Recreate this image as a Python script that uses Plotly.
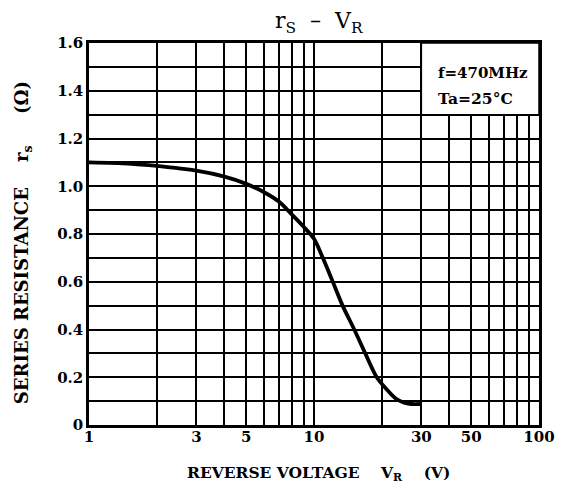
import plotly.graph_objects as go

# Curve data
vr = [1, 1.5, 2, 3, 4, 5, 6, 7, 8, 9, 10, 11, 12, 13.4, 15.1, 16.9, 19, 21, 23, 25, 27, 30]
rs = [1.10, 1.095, 1.085, 1.065, 1.04, 1.01, 0.975, 0.935, 0.88, 0.83, 0.78, 0.695, 0.61,
      0.50, 0.40, 0.30, 0.20, 0.15, 0.112, 0.094, 0.088, 0.088]

x_ticks = [1, 3, 5, 10, 30, 50, 100]
x_labels = ["1", "3", "5", "10", "30", "50", "100"]
x_minor = [2, 4, 6, 7, 8, 9, 20, 40, 60, 70, 80, 90]
y_ticks = [0, 0.2, 0.4, 0.6, 0.8, 1.0, 1.2, 1.4, 1.6]
y_labels = ["0", "0.2", "0.4", "0.6", "0.8", "1.0", "1.2", "1.4", "1.6"]
y_minor = [0.1, 0.3, 0.5, 0.7, 0.9, 1.1, 1.3, 1.5]

FONT = "DejaVu Serif"
BOLD15 = dict(family=FONT, size=15, color="black", weight="bold")

fig = go.Figure()
fig.add_trace(go.Scatter(
    x=vr, y=rs, mode="lines",
    line=dict(color="black", width=3.8, shape="spline", smoothing=0.8),
    hoverinfo="skip", showlegend=False))

fig.update_xaxes(
    type="log", range=[0, 2],
    tickvals=x_ticks, ticktext=x_labels,
    showgrid=True, gridcolor="black", gridwidth=1.5,
    minor=dict(tickvals=x_minor, showgrid=True, gridcolor="black", gridwidth=1.5, ticks=""),
    showline=True, linecolor="black", linewidth=2.5, mirror=True,
    ticks="", zeroline=False, ticklabelstandoff=-4, ticklabeloverflow="allow",
    tickfont=BOLD15)
fig.update_yaxes(
    range=[0, 1.6],
    tickvals=y_ticks, ticktext=y_labels,
    showgrid=True, gridcolor="black", gridwidth=1.5,
    minor=dict(tickvals=y_minor, showgrid=True, gridcolor="black", gridwidth=1.5, ticks=""),
    showline=True, linecolor="black", linewidth=2.5, mirror=True,
    ticks="", zeroline=False, ticklabelstandoff=0,
    tickfont=BOLD15)

# condition box in upper right corner
fig.add_shape(type="rect", xref="x", yref="y",
              x0=30, x1=100, y0=1.3, y1=1.6,
              fillcolor="white", line=dict(color="black", width=1.5), layer="above")

fig.add_annotation(xref="paper", yref="paper", x=0.77, y=0.921,
                   xanchor="left", yanchor="middle",
                   text="f=470MHz", showarrow=False, font=BOLD15)
fig.add_annotation(xref="paper", yref="paper", x=0.77, y=0.856,
                   xanchor="left", yanchor="middle",
                   text="Ta=25°C", showarrow=False,
                   font=dict(family=FONT, size=15.5, color="black", weight="bold"))

# axis titles
fig.add_annotation(xref="paper", yref="paper", x=0.511, y=-0.128, yanchor="middle",
                   text="REVERSE VOLTAGE&nbsp;&nbsp;&nbsp;&nbsp;V<sub>R</sub>&nbsp;&nbsp;&nbsp;&nbsp;(V)",
                   showarrow=False,
                   font=dict(family=FONT, size=15.5, color="black", weight="bold"))
fig.add_annotation(xref="paper", yref="paper", x=-0.145, y=0.478, xanchor="center",
                   yanchor="middle", textangle=-90,
                   text="SERIES RESISTANCE&nbsp;&nbsp;&nbsp;&nbsp;r<sub>s</sub>&nbsp;&nbsp;&nbsp;&nbsp;&nbsp;(Ω)",
                   showarrow=False,
                   font=dict(family=FONT, size=18, color="black", weight="bold"))

# title as an annotation placed just above the plot area
fig.add_annotation(xref="paper", yref="paper", x=0.511, y=1.0, yanchor="bottom",
                   yshift=4,
                   text="r<sub>S</sub>&nbsp;&nbsp;–&nbsp;&nbsp;V<sub>R</sub>",
                   showarrow=False,
                   font=dict(family=FONT, size=22, color="black"))

# page body has an 8px default margin, so the figure is sized to fit inside it
fig.update_layout(
    width=559, height=480,
    margin=dict(l=81, r=16, t=35, b=63),
    paper_bgcolor="white", plot_bgcolor="white",
)

fig.write_html("out.html")
